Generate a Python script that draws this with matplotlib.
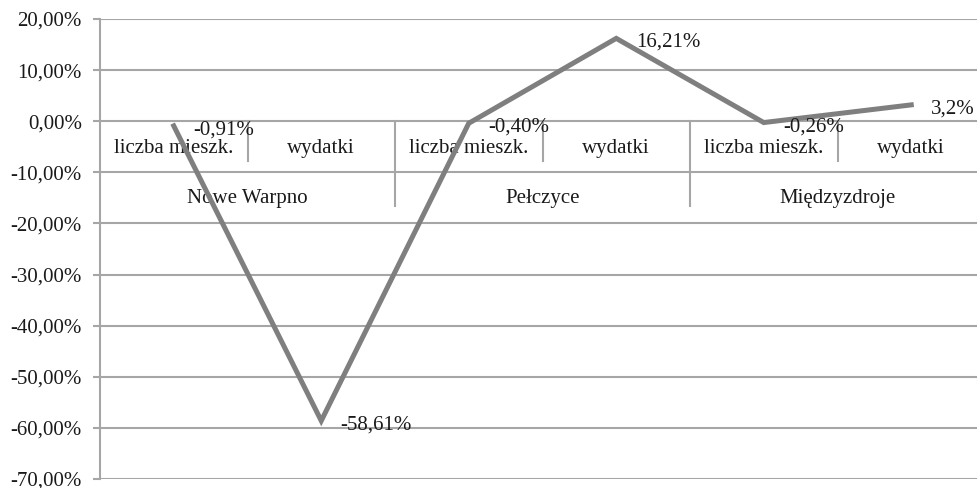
import matplotlib
matplotlib.use("Agg")
import matplotlib.pyplot as plt
import numpy as np

groups = ["Nowe Warpno", "Pełczyce", "Międzyzdroje"]
subcats = ["liczba mieszk.", "wydatki"]
values = [-0.91, -58.61, -0.40, 16.21, -0.26, 3.2]
value_labels = ["-0,91%", "-58,61%", "-0,40%", "16,21%", "-0,26%", "3,2%"]
yticks = [20, 10, 0, -10, -20, -30, -40, -50, -60, -70]
ytick_labels = ["20,00%", "10,00%", "0,00%", "-10,00%", "-20,00%", "-30,00%",
                "-40,00%", "-50,00%", "-60,00%", "-70,00%"]

plt.rcParams['font.family'] = ['Liberation Serif', 'DejaVu Serif']
W, H = 977, 488
fig = plt.figure(figsize=(W/100, H/100), dpi=100)
left, right, top, bottom = 100, 985, 19, 479
ax = fig.add_axes([left/W, (H-bottom)/H, (right-left)/W, (bottom-top)/H])

grid_c = "#a6a6a6"
txt_c = "#1a1a1a"
n = len(values)
x = np.arange(n) + 0.5
ax.set_xlim(0, n)
ax.set_ylim(-70, 20)

for yv in yticks:
    ax.axhline(yv, color=grid_c, lw=1.5, zorder=1)

ax.plot(x, values, color="#7f7f7f", lw=3.6, solid_joinstyle="miter", zorder=3)

fs = 15
for xi, v, lab in zip(x, values, value_labels):
    ax.annotate(lab, (xi, v), xytext=(14, -3), textcoords="offset points",
                ha="left", va="center", fontsize=fs, color=txt_c, zorder=4)

# category axis drawn at y = 0
ns = len(subcats)
sub_y = -5.3
grp_y = -15.1
for i in range(n):
    ax.text(i + 0.5, sub_y, subcats[i % ns], ha="center", va="center",
            fontsize=fs, color=txt_c, zorder=2)
for g, name in enumerate(groups):
    ax.text(g*ns + ns/2, grp_y, name, ha="center", va="center",
            fontsize=fs, color=txt_c, zorder=2)
for i in range(1, n):
    if i % ns == 0:
        ax.plot([i, i], [0, -16.5], color=grid_c, lw=1.5, zorder=1)
    else:
        ax.plot([i, i], [0, -7.7], color=grid_c, lw=1.5, zorder=1)

ax.set_yticks(yticks)
ax.set_yticklabels(ytick_labels, fontsize=fs, color=txt_c)
ax.tick_params(axis="y", length=5, width=1.5, color=grid_c, pad=8)
ax.set_xticks([])
for s in ["top", "right", "bottom"]:
    ax.spines[s].set_visible(False)
ax.spines["left"].set_color(grid_c)
ax.spines["left"].set_linewidth(1.5)

fig.savefig("out.png", dpi=100)
